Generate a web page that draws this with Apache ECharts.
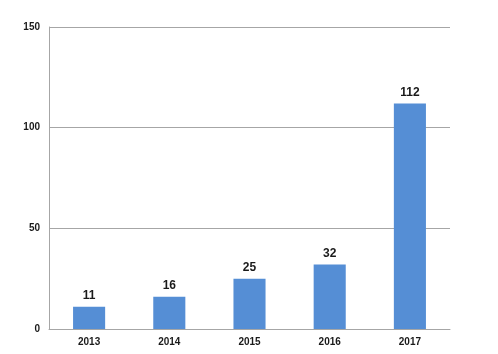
<!DOCTYPE html>
<html>
<head>
  <meta charset="UTF-8">
  <title>Bar chart 2013-2017</title>
  <script src="https://cdn.jsdelivr.net/npm/echarts@6/dist/echarts.min.js"></script>
  <style>
    html, body { margin: 0; padding: 0; background: #fff; }
    #main { width: 498px; height: 354px; }
  </style>
</head>
<body>
  <div id="main"></div>
  <script>
    const years = ['2013', '2014', '2015', '2016', '2017'];
    const counts = [11, 16, 25, 32, 112];

    const chart = echarts.init(document.getElementById('main'));
    chart.setOption({
      animation: false,
      grid: { left: 49, right: 48, top: 27, bottom: 25 },
      xAxis: {
        type: 'category',
        data: years,
        axisLine: { lineStyle: { color: '#a6a6a6', width: 1 } },
        axisTick: { show: false },
        axisLabel: { color: '#1a1a1a', fontWeight: 'bold', fontSize: 10, fontFamily: 'Liberation Sans', margin: 8 }
      },
      yAxis: {
        type: 'value',
        min: 0, max: 150, interval: 50,
        axisLine: { show: true, lineStyle: { color: '#a6a6a6', width: 1 } },
        axisTick: { show: false },
        splitLine: { lineStyle: { color: '#a6a6a6', width: 1 } },
        axisLabel: { color: '#1a1a1a', fontWeight: 'bold', fontSize: 10, fontFamily: 'Liberation Sans', margin: 9 }
      },
      series: [{
        type: 'bar',
        data: counts,
        barWidth: '40%',
        itemStyle: { color: '#558ed5' },
        label: {
          show: true, position: 'top', distance: 5,
          color: '#1a1a1a', fontWeight: 'bold', fontSize: 12, fontFamily: 'Liberation Sans'
        }
      }]
    });
  </script>
</body>
</html>
